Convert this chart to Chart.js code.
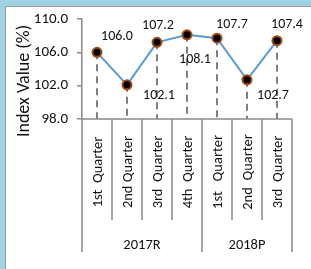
<!DOCTYPE html>
<html>
<head>
<meta charset="utf-8">
<script src="https://cdn.jsdelivr.net/npm/chart.js@4"></script>
<style>
  html, body { margin: 0; padding: 0; background: #fff; }
  canvas { display: block; }
</style>
</head>
<body>
<canvas id="lineChart" width="311" height="269"></canvas>
<script>
// data
const quarters = ['1st  Quarter', '2nd Quarter', '3rd  Quarter', '4th  Quarter', '1st   Quarter', '2nd  Quarter', '3rd  Quarter'];
const years = ['2017R', '2018P'];
const yearSpans = [4, 3];
const indexValues = [106.0, 102.1, 107.2, 108.1, 107.7, 102.7, 107.4];
const yTicks = [98, 102, 106, 110];
const yTitle = 'Index Value (%)';

// where each value label sits relative to its point
const labelOffsets = [[20, -16], [32, 11], [1, -17], [8, 25], [15, -14], [26, 16], [10, -16]];

const FONT = 'Carlito, Lato, "Liberation Sans", sans-serif';
const GRAY = '#8a8a8a';

const decoPlugin = {
	id: 'deco',
	beforeDraw(chart) {
		const c = chart.ctx;
		c.save();
		c.fillStyle = '#fff';
		c.fillRect(0, 0, chart.width, chart.height);
		c.fillStyle = '#9fd3e3';
		c.fillRect(0, 0, chart.width, 6);
		c.fillRect(0, 0, 5, chart.height);
		c.fillStyle = '#9a9a9a';
		c.fillRect(5, 6, chart.width, 1);
		c.fillRect(5, 6, 1, chart.height);

		// y axis title
		c.fillStyle = '#111';
		c.font = '18px ' + FONT;
		c.textAlign = 'center';
		c.textBaseline = 'middle';
		c.translate(24, 81);
		c.rotate(-Math.PI / 2);
		c.fillText(yTitle, 0, 0);
		c.restore();
	},
	beforeDatasetsDraw(chart) {
		const c = chart.ctx;
		const x = chart.scales.x, y = chart.scales.y;
		const bottom = chart.chartArea.bottom;
		c.save();
		// drop lines
		c.strokeStyle = '#7f7f7f';
		c.lineWidth = 2;
		c.setLineDash([7, 5]);
		indexValues.forEach((v, i) => {
			const px = Math.round(x.getPixelForValue(i));
			c.beginPath();
			c.moveTo(px, y.getPixelForValue(v));
			c.lineTo(px, bottom);
			c.stroke();
		});
		c.setLineDash([]);

		// category axis
		const half = (x.getPixelForValue(1) - x.getPixelForValue(0)) / 2;
		c.strokeStyle = GRAY;
		c.lineWidth = 1.5;
		c.beginPath();
		c.moveTo(chart.chartArea.left, bottom);
		c.lineTo(chart.chartArea.right, bottom);
		c.stroke();

		let start = 0;
		const groupBounds = [0];
		yearSpans.forEach(n => { start += n; groupBounds.push(start); });
		for (let i = 0; i <= quarters.length; i++) {
			const px = Math.round(x.getPixelForValue(i) - half);
			const len = groupBounds.includes(i) ? 133 : 101;
			c.beginPath();
			c.moveTo(px, bottom);
			c.lineTo(px, bottom + len);
			c.stroke();
		}

		c.fillStyle = '#111';
		c.font = '14.5px ' + FONT;
		c.textAlign = 'center';
		c.textBaseline = 'middle';
		quarters.forEach((q, i) => {
			c.save();
			c.translate(x.getPixelForValue(i) + 1, bottom + 53);
			c.rotate(-Math.PI / 2);
			c.fillText(q, 0, 0);
			c.restore();
		});
		years.forEach((yr, g) => {
			const a = x.getPixelForValue(groupBounds[g]) - half;
			const b = x.getPixelForValue(groupBounds[g + 1]) - half;
			c.fillText(yr, (a + b) / 2, bottom + 126);
		});
		c.restore();
	},
	afterDatasetsDraw(chart) {
		const c = chart.ctx;
		const x = chart.scales.x, y = chart.scales.y;
		c.save();
		c.fillStyle = '#111';
		c.font = '14px ' + FONT;
		c.textAlign = 'center';
		c.textBaseline = 'middle';
		indexValues.forEach((v, i) => {
			const [dx, dy] = labelOffsets[i];
			c.fillText(v.toFixed(1), x.getPixelForValue(i) + dx, y.getPixelForValue(v) + dy);
		});
		c.restore();
	}
};

const ctx = document.getElementById('lineChart').getContext('2d');

const lineChart = new Chart(ctx, {
	type: 'line',
	data: {
		labels: quarters,
		datasets: [{
			data: indexValues,
			borderColor: '#5b9bd5',
			borderWidth: 2,
			pointRadius: 4.5,
			pointBackgroundColor: '#000',
			pointBorderColor: '#a04a12',
			pointBorderWidth: 2,
			tension: 0
		}]
	},
	options: {
		responsive: false,
		animation: false,
		devicePixelRatio: 1,
		layout: { padding: { left: 6, top: 19, right: 19, bottom: 150 } },
		plugins: { legend: { display: false }, tooltip: { enabled: false } },
		scales: {
			x: { display: false, offset: true },
			y: {
				min: 98,
				max: 110,
				afterBuildTicks: s => { s.ticks = yTicks.map(v => ({ value: v })); },
				afterFit: s => { s.width = 76; },
				ticks: {
					color: '#111',
					padding: 9,
					font: { family: FONT, size: 15 },
					callback: v => v.toFixed(1)
				},
				grid: { drawOnChartArea: false, color: GRAY, lineWidth: 1.5, tickLength: 5 },
				border: { color: GRAY, width: 1.5 }
			}
		}
	},
	plugins: [decoPlugin]
});
</script>
</body>
</html>
